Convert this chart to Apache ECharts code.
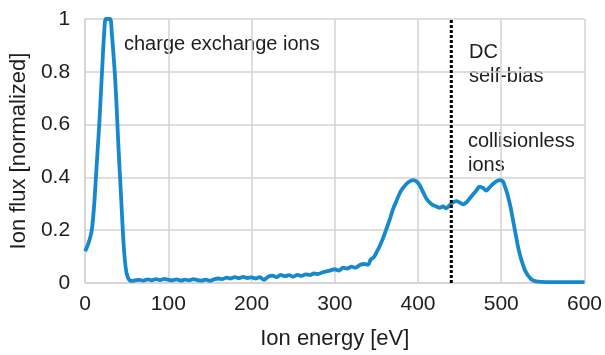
<!DOCTYPE html>
<html>
<head>
<meta charset="utf-8">
<script src="https://cdn.jsdelivr.net/npm/echarts@6/dist/echarts.min.js"></script>
<style>
  html, body { margin: 0; padding: 0; background: #fff; }
  #chart { width: 605px; height: 355px; }
</style>
</head>
<body>
<div id="chart"></div>
<script>
// Ion energy distribution: energy (eV) and normalized flux
const energy = [
  0, 4, 8, 11, 13, 15, 17, 19, 21, 23, 25, 30, 32, 34, 36, 38, 40, 42, 44, 46, 48, 50, 53, 56,
  60, 65, 70, 75, 80, 85, 90, 95, 100, 105, 110, 115, 120, 125, 130, 135, 140, 145, 150, 155,
  160, 165, 170, 175, 180, 185, 190, 195, 200, 205, 210, 215, 220, 225, 230, 235, 240, 245,
  250, 255, 260, 265, 270, 275, 280, 285, 290, 295, 300, 305, 310, 315, 320, 325, 330, 335,
  340, 343, 347, 350, 354, 358, 362, 366, 370, 374, 378, 382, 386, 390, 394, 398, 402, 406,
  410, 414, 418, 422, 426, 430, 434, 438, 442, 446, 450, 454, 458, 462, 466, 470, 474, 478,
  482, 486, 490, 494, 498, 502, 505, 508, 511, 514, 517, 520, 523, 526, 529, 533, 537, 542,
  548, 560, 580, 600
];
const flux = [
  0.12, 0.15, 0.20, 0.30, 0.40, 0.50, 0.60, 0.72, 0.84, 0.95, 1.0, 1.0, 0.95, 0.87, 0.78, 0.66, 0.52, 0.40, 0.28, 0.16, 0.08, 0.035, 0.012, 0.008,
  0.010, 0.012, 0.009, 0.014, 0.010, 0.015, 0.011, 0.016, 0.012, 0.010, 0.014, 0.009, 0.013, 0.010, 0.015, 0.011, 0.009, 0.013, 0.008, 0.014,
  0.017, 0.015, 0.020, 0.017, 0.022, 0.018, 0.023, 0.019, 0.021, 0.017, 0.022, 0.012, 0.024, 0.028, 0.022, 0.031, 0.026, 0.030,
  0.024, 0.031, 0.027, 0.033, 0.030, 0.036, 0.034, 0.040, 0.044, 0.048, 0.052, 0.047, 0.058, 0.055, 0.062, 0.058, 0.068, 0.072,
  0.070, 0.088, 0.098, 0.115, 0.14, 0.17, 0.205, 0.24, 0.28, 0.31, 0.34, 0.36, 0.375, 0.385, 0.39, 0.385, 0.37, 0.345,
  0.32, 0.305, 0.295, 0.29, 0.285, 0.29, 0.283, 0.295, 0.305, 0.31, 0.305, 0.298, 0.305, 0.32, 0.335, 0.35, 0.365, 0.36,
  0.35, 0.362, 0.375, 0.385, 0.39, 0.385, 0.36, 0.33, 0.29, 0.24, 0.19, 0.14, 0.10, 0.07, 0.045, 0.025, 0.012, 0.006,
  0.004, 0.003, 0.003, 0.003
];
// DC self-bias marker position (eV)
const selfBias = 440;
const xTicks = [0, 100, 200, 300, 400, 500, 600];
const yTicks = [0, 0.2, 0.4, 0.6, 0.8, 1];

const font = '"Liberation Sans", Arial, Helvetica, sans-serif';
const gridColor = '#d6d2d2';
const textColor = '#1e1e1e';

const chart = echarts.init(document.getElementById('chart'), null, { renderer: 'canvas' });

chart.setOption({
  animation: false,
  backgroundColor: '#ffffff',
  grid: { left: 84, right: 18, top: 19, bottom: 72 },
  xAxis: {
    type: 'value',
    min: xTicks[0],
    max: xTicks[xTicks.length - 1],
    interval: 100,
    name: 'Ion energy [eV]',
    nameLocation: 'middle',
    nameGap: 45,
    nameTextStyle: { fontFamily: font, fontSize: 22, color: textColor },
    axisLine: { show: true, lineStyle: { color: gridColor, width: 1.5 } },
    axisTick: { show: false },
    axisLabel: { fontFamily: font, fontSize: 21, color: textColor, margin: 11 },
    splitLine: { show: true, lineStyle: { color: gridColor, width: 1.5 } }
  },
  yAxis: {
    type: 'value',
    min: yTicks[0],
    max: yTicks[yTicks.length - 1],
    interval: 0.2,
    name: 'Ion flux [normalized]',
    nameLocation: 'middle',
    nameGap: 51,
    nameTextStyle: { fontFamily: font, fontSize: 22, color: textColor },
    axisLine: { show: true, lineStyle: { color: gridColor, width: 1.5 } },
    axisTick: { show: false },
    axisLabel: { fontFamily: font, fontSize: 21, color: textColor, margin: 15 },
    splitLine: { show: true, lineStyle: { color: gridColor, width: 1.5 } }
  },
  series: [
    {
      type: 'line',
      data: energy.map((e, i) => [e, flux[i]]),
      showSymbol: false,
      smooth: 0.3,
      clip: false,
      lineStyle: { color: '#1689cd', width: 3.8 },
      z: 3
    },
    {
      type: 'line',
      data: [[selfBias, 0], [selfBias, 1]],
      showSymbol: false,
      lineStyle: { color: '#000', width: 3, type: [3, 2] },
      z: 4
    }
  ],
  graphic: [
    { type: 'text', left: 124, top: 34, style: { text: 'charge exchange ions', font: '20px ' + font, fill: textColor } },
    { type: 'text', left: 469, top: 40, style: { text: 'DC\nself-bias', font: '20px ' + font, fill: textColor, lineHeight: 24 } },
    { type: 'text', left: 468, top: 129, style: { text: 'collisionless\nions', font: '20px ' + font, fill: textColor, lineHeight: 24 } }
  ]
});
</script>
</body>
</html>
